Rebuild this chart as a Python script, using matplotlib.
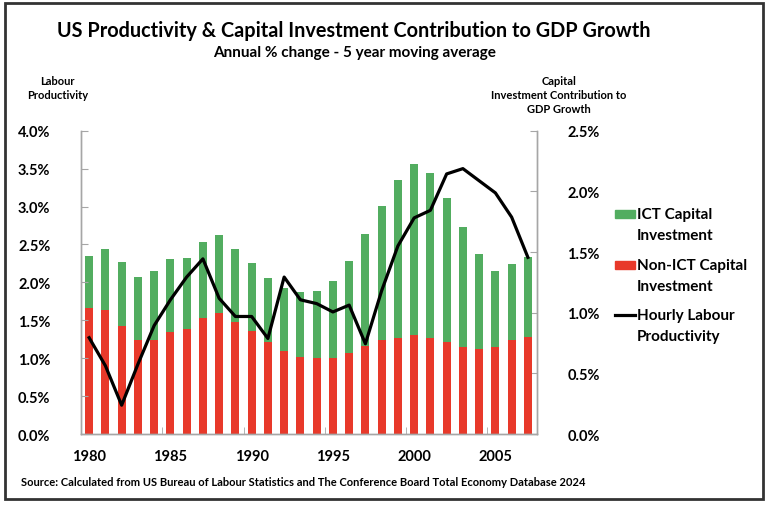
import matplotlib
matplotlib.use('Agg')
import matplotlib.pyplot as plt
from matplotlib.patches import Rectangle
from matplotlib.lines import Line2D
from matplotlib.ticker import FuncFormatter
import numpy as np

plt.rcParams['font.family'] = ['Lato', 'DejaVu Sans']
plt.rcParams['font.weight'] = 'bold'

# Data
years = list(range(1980, 2008))
non_ict = [1.036, 1.025, 0.893, 0.775, 0.772, 0.841, 0.868, 0.956, 1.000, 0.926,
           0.852, 0.758, 0.681, 0.637, 0.624, 0.624, 0.668, 0.723, 0.772, 0.794,
           0.819, 0.794, 0.756, 0.717, 0.703, 0.717, 0.777, 0.802]
total_capital = [1.465, 1.525, 1.420, 1.294, 1.344, 1.440, 1.451, 1.583, 1.640, 1.525,
                 1.407, 1.289, 1.201, 1.173, 1.181, 1.264, 1.429, 1.649, 1.880, 2.097,
                 2.226, 2.149, 1.946, 1.704, 1.481, 1.346, 1.401, 1.461]
ict = [t - n for t, n in zip(total_capital, non_ict)]
productivity = [1.27, 0.90, 0.38, 0.92, 1.43, 1.77, 2.07, 2.31, 1.79, 1.55,
                1.55, 1.26, 2.07, 1.77, 1.72, 1.61, 1.70, 1.19, 1.89, 2.48,
                2.85, 2.95, 3.43, 3.50, 3.34, 3.18, 2.86, 2.33]
legend_labels = [('ICT Capital', 'Investment'),
                 ('Non-ICT Capital', 'Investment'),
                 ('Hourly Labour', 'Productivity')]

green = '#52ad60'
red = '#e8392a'
spine_col = '#a6a6a6'

W, H = 768, 506
fig = plt.figure(figsize=(W / 100, H / 100), dpi=100)
ax = fig.add_axes([0.1055, 0.1403, 0.5935, 0.5994])
ax2 = ax.twinx()

x = np.arange(len(years))
ax2.bar(x, non_ict, width=0.48, color=red, zorder=2)
ax2.bar(x, ict, width=0.48, bottom=non_ict, color=green, zorder=2)
ax.plot(x, productivity, color='black', lw=2.3, zorder=3)

ax.set_zorder(ax2.get_zorder() + 1)
ax.patch.set_visible(False)

ax.set_xlim(-0.5, 27.55)
ax.set_ylim(0, 4.0)
ax2.set_ylim(0, 2.5)
ax.set_yticks(np.arange(0, 4.01, 0.5))
ax2.set_yticks(np.arange(0, 2.51, 0.5))
pct = FuncFormatter(lambda v, p: f'{v:.1f}%')
ax.yaxis.set_major_formatter(pct)
ax2.yaxis.set_major_formatter(pct)

ax.set_xticks(x[::5])
ax.set_xticklabels([str(y) for y in years[::5]])
ax.set_xticks(np.arange(4.5, 27, 5), minor=True)
ax.tick_params(axis='x', which='major', length=0, pad=11, labelsize=10.5)
ax.tick_params(axis='x', which='minor', length=5, direction='in', color=spine_col)
ax.tick_params(axis='y', length=5, direction='in', color=spine_col, labelsize=10.5, pad=22)
ax2.tick_params(axis='y', length=5, direction='in', color=spine_col, labelsize=10.5, pad=22)
for lab in ax.get_xticklabels() + ax.get_yticklabels() + ax2.get_yticklabels():
    lab.set_fontweight('bold')
for a in (ax, ax2):
    a.spines['top'].set_visible(False)
    for s in ('left', 'right', 'bottom'):
        a.spines[s].set_color(spine_col)
        a.spines[s].set_linewidth(1.0)

fig.text(0.461, 1 - 36.7 / H, 'US Productivity & Capital Investment Contribution to GDP Growth',
         ha='center', va='baseline', fontsize=14.3, fontweight='bold')
fig.text(0.461, 1 - 57.3 / H, 'Annual % change - 5 year moving average',
         ha='center', va='baseline', fontsize=11, fontweight='bold')
fig.text(57.5 / W, 1 - 88.5 / H, 'Labour\nProductivity', ha='center', va='center',
         fontsize=8, fontweight='bold', linespacing=1.35)
fig.text(559 / W, 1 - 95.7 / H, 'Capital\nInvestment Contribution to\nGDP Growth', ha='center',
         va='center', fontsize=8, fontweight='bold', linespacing=1.35)
fig.text(0.027, 1 - 482 / H, 'Source: Calculated from US Bureau of Labour Statistics and The Conference Board '
         'Total Economy Database 2024', ha='left', va='center', fontsize=8, fontweight='bold')

# legend drawn by hand to match the two-line layout
first_rows = [215, 266, 316]
for i, ((l1, l2), yrow) in enumerate(zip(legend_labels, first_rows)):
    if i < 2:
        col = green if i == 0 else red
        fig.patches.append(Rectangle((615 / W, 1 - (yrow + 4) / H), 20 / W, 8 / H,
                                     transform=fig.transFigure, color=col))
    else:
        fig.lines.append(Line2D([615 / W, 635 / W], [1 - yrow / H, 1 - yrow / H],
                                transform=fig.transFigure, color='black', lw=2.3))
    fig.text(637 / W, 1 - yrow / H, l1, ha='left', va='center', fontsize=11, fontweight='bold')
    fig.text(637 / W, 1 - (yrow + 21) / H, l2, ha='left', va='center', fontsize=11,
             fontweight='bold')

fig.patches.append(Rectangle((0.006, 0.012), 0.988, 0.98, transform=fig.transFigure,
                             fill=False, edgecolor='#333333', lw=2))

fig.savefig('out.png', dpi=100)
